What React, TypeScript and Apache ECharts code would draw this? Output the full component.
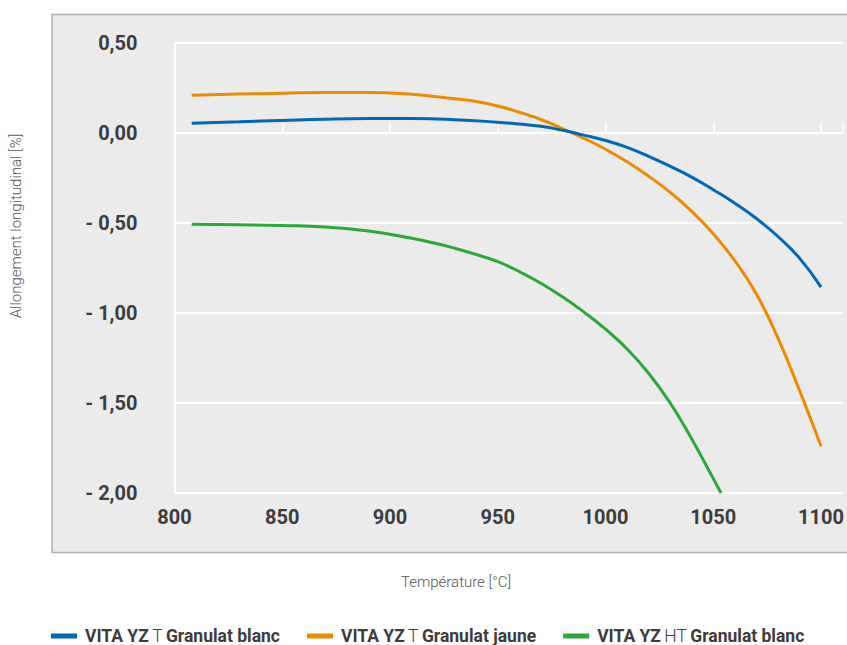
import React, { useEffect, useRef } from "react";
import * as echarts from "echarts";

const seriesNames = [
  "VITA YZ T Granulat blanc",
  "VITA YZ T Granulat jaune",
  "VITA YZ HT Granulat blanc",
];

const blueData: [number, number][] = [
  [808, 0.054], [830, 0.062], [850, 0.07], [870, 0.077], [890, 0.08],
  [910, 0.08], [930, 0.074], [950, 0.06], [960, 0.05], [970, 0.037],
  [980, 0.015], [990, -0.012], [1000, -0.042], [1010, -0.08], [1020, -0.13],
  [1030, -0.185], [1040, -0.245], [1050, -0.315], [1060, -0.39],
  [1070, -0.475], [1080, -0.575], [1090, -0.695], [1100, -0.856],
];

const orangeData: [number, number][] = [
  [808, 0.21], [830, 0.216], [850, 0.221], [870, 0.225], [890, 0.225],
  [910, 0.215], [930, 0.19], [940, 0.175], [950, 0.15], [960, 0.115],
  [970, 0.075], [980, 0.025], [990, -0.03], [1000, -0.09], [1010, -0.16],
  [1020, -0.24], [1030, -0.33], [1040, -0.435], [1050, -0.56], [1060, -0.71],
  [1070, -0.895], [1080, -1.14], [1090, -1.43], [1100, -1.74],
];

const greenData: [number, number][] = [
  [808, -0.507], [830, -0.51], [850, -0.514], [870, -0.522], [890, -0.545],
  [910, -0.585], [920, -0.61], [930, -0.64], [940, -0.675], [950, -0.715],
  [960, -0.77], [970, -0.835], [980, -0.91], [990, -0.995], [1000, -1.09],
  [1010, -1.2], [1020, -1.335], [1030, -1.5], [1040, -1.7], [1050, -1.92],
  [1053.6, -2.0],
];

const xTicks = [800, 850, 900, 950, 1000, 1050, 1100];
const yTicks = [0.5, 0, -0.5, -1, -1.5, -2];

const colors = ["#0068b4", "#ec8a00", "#2ca83a"];

const fmtY = (v: number) => {
  const a = Math.abs(v).toFixed(2).replace(".", ",");
  return v < -1e-9 ? "- " + a : a;
};

export default function App() {
  const ref = useRef<HTMLDivElement>(null);
  useEffect(() => {
    if (!ref.current) return;
    const chart = echarts.init(ref.current, undefined, { renderer: "svg" });
    const labelFont = "Roboto, 'Liberation Sans', sans-serif";
    const lineCommon = {
      type: "line",
      smooth: 0.5,
      showSymbol: false,
    };
    chart.setOption({
      animation: false,
      backgroundColor: "#ffffff",
      color: colors,
      graphic: [
        {
          type: "rect",
          z: -10,
          silent: true,
          shape: { x: 52, y: 14.5, width: 820, height: 538 },
          style: { fill: "#ebebeb", stroke: "#b0b0b0", lineWidth: 1.5 },
        },
        {
          type: "text",
          x: 16,
          y: 226,
          rotation: Math.PI / 2,
          style: {
            text: "Allongement longitudinal [%]",
            align: "center",
            verticalAlign: "middle",
            fontFamily: labelFont,
            fontWeight: 300,
            fontSize: 15,
            fill: "#555555",
          },
        },
        {
          type: "text",
          x: 456,
          y: 582,
          style: {
            text: "Température [°C]",
            align: "center",
            verticalAlign: "middle",
            fontFamily: labelFont,
            fontWeight: 300,
            fontSize: 15,
            fill: "#555555",
          },
        },
      ],
      grid: { left: 174.5, top: 43, right: 0, bottom: 152, containLabel: false },
      legend: {
        left: 51,
        top: 627,
        padding: 0,
        itemWidth: 26,
        itemHeight: 5,
        itemGap: 27,
        icon: "rect",
        data: seriesNames,
        formatter: (name: string) => {
          const parts = name.split(" ");
          const grade = parts[2];
          const rest = parts.slice(3).join(" ");
          return `{s|}{b|VITA YZ} {l|${grade}} {b|${rest}}`;
        },
        textStyle: {
          lineHeight: 16,
          rich: {
            s: { width: 3, lineHeight: 16 },
            b: { fontFamily: labelFont, fontWeight: "bold", fontSize: 17.5, lineHeight: 16, color: "#3c3c3c" },
            l: { fontFamily: labelFont, fontWeight: 300, fontSize: 17.5, lineHeight: 16, color: "#3c3c3c" },
          },
        },
      },
      xAxis: {
        type: "value",
        min: 800,
        max: 1110,
        interval: 50,
        axisLine: { show: true, lineStyle: { color: "#ffffff", width: 2 } },
        axisTick: {
          show: true,
          inside: true,
          length: 11,
          lineStyle: { color: "#ffffff", width: 1.5 },
        },
        splitLine: { show: false },
        axisLabel: {
          margin: 14,
          fontFamily: labelFont,
          fontWeight: "bold",
          fontSize: 20,
          color: "#3c3c3c",
          formatter: (v: number) => (xTicks.includes(v) ? String(v) : ""),
        },
      },
      yAxis: {
        type: "value",
        min: -2,
        max: 0.5,
        interval: 0.5,
        axisLine: { show: true, lineStyle: { color: "#ffffff", width: 2 } },
        axisTick: { show: false },
        splitLine: { show: true, lineStyle: { color: "#ffffff", width: 2 } },
        axisLabel: {
          margin: 37,
          fontFamily: labelFont,
          fontWeight: "bold",
          fontSize: 20,
          color: "#3c3c3c",
          formatter: (v: number) =>
            yTicks.some((t) => Math.abs(t - v) < 1e-9) ? fmtY(v) : "",
        },
      },
      series: [
        {
          ...lineCommon,
          name: seriesNames[0],
          data: blueData,
          z: 5,
          lineStyle: { width: 3, color: colors[0] },
        },
        {
          ...lineCommon,
          name: seriesNames[1],
          data: orangeData,
          z: 4,
          lineStyle: { width: 3, color: colors[1] },
        },
        {
          ...lineCommon,
          name: seriesNames[2],
          data: greenData,
          z: 3,
          lineStyle: { width: 3, color: colors[2] },
        },
      ],
    });
    return () => chart.dispose();
  }, []);
  return (
    <div
      ref={ref}
      style={{ position: "fixed", left: 0, top: 0, width: 847, height: 645 }}
    />
  );
}
